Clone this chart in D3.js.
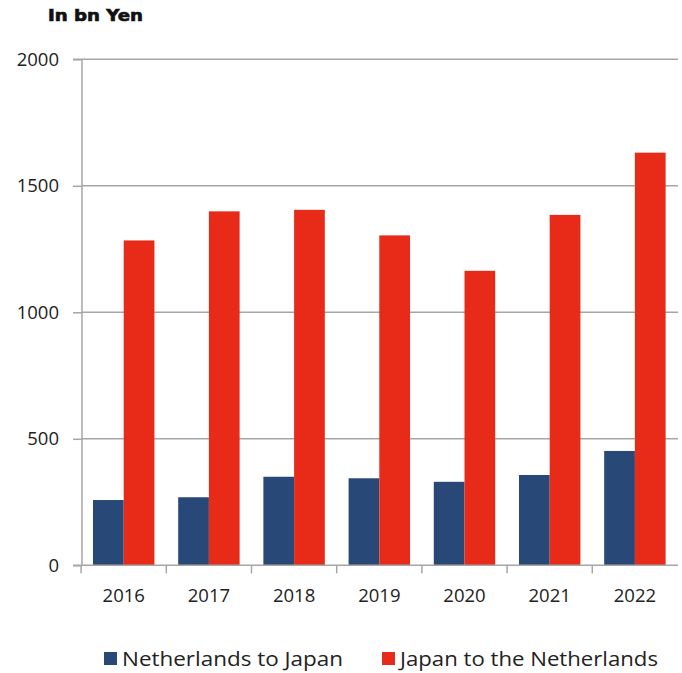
<!DOCTYPE html>
<html><head><meta charset="utf-8">
<script src="https://cdn.jsdelivr.net/npm/d3@7"></script>
<style>body{margin:0;background:#fff}</style>
</head><body>
<svg id="c" width="682" height="673"></svg>
<script>
const years = ["2016","2017","2018","2019","2020","2021","2022"];
const nlToJp = [258, 269, 350, 344, 330, 357, 452];
const jpToNl = [1284, 1399, 1405, 1304, 1164, 1385, 1631];
const seriesNames = ["Netherlands to Japan", "Japan to the Netherlands"];
const seriesColors = ["#284878", "#e82a18"];
const yTicks = [0, 500, 1000, 1500, 2000];
const unitLabel = "In bn Yen";

const svg = d3.select("#c");
const m = {l: 82, r: 678, t: 59.3, b: 565.3};
const x = d3.scaleBand().domain(years).range([m.l, m.l + 594.6]).paddingInner(0.279).paddingOuter(0.129);
const xs = d3.scaleBand().domain([0,1]).range([0, x.bandwidth()]);
const y = d3.scaleLinear().domain([0, 2000]).range([m.b, m.t]);
const grid = "#a6a6a6";
const font = "'Open Sans', 'Noto Sans', sans-serif";

// gridlines
svg.append("g").selectAll("line").data(yTicks.filter(d=>d>0)).join("line")
  .attr("x1", m.l).attr("x2", m.r).attr("y1", d=>y(d)).attr("y2", d=>y(d))
  .attr("stroke", grid).attr("stroke-width", 1.5);

// bars
const data = [nlToJp, jpToNl];
data.forEach((vals, si) => {
  svg.append("g").selectAll("rect").data(years).join("rect")
    .attr("x", d => x(d) + xs(si))
    .attr("width", xs.bandwidth())
    .attr("y", (d,i) => y(vals[i]))
    .attr("height", (d,i) => y(0) - y(vals[i]))
    .attr("fill", seriesColors[si]);
});

// y axis
const ya = svg.append("g").attr("transform", `translate(${m.l},0)`)
  .call(d3.axisLeft(y).tickValues(yTicks).tickSize(9).tickPadding(14).tickFormat(d3.format("d")));
ya.select(".domain").attr("stroke", grid).attr("stroke-width", 1.5).attr("d", `M-9,${m.b}H0V${m.t}H-9`);
ya.selectAll(".tick line").attr("stroke", grid).attr("stroke-width", 1.5);
ya.selectAll(".tick text").attr("font-family", font).attr("font-size", 18.5).attr("fill", "#222");

// x axis
const xa = svg.append("g").attr("transform", `translate(0,${m.b})`)
  .call(d3.axisBottom(x).tickSize(0).tickPadding(0));
xa.select(".domain").attr("stroke", grid).attr("stroke-width", 1.5).attr("d", `M${m.l},0H${m.r}`);
xa.selectAll(".tick text").attr("font-family", font).attr("font-size", 18.5).attr("fill", "#222")
  .attr("dy", null).attr("y", 37);
const bounds = years.map(d => x(d) - x.step()*x.paddingInner()/2);
svg.append("g").selectAll("line").data(bounds).join("line")
  .attr("x1", d=>d).attr("x2", d=>d).attr("y1", m.b).attr("y2", m.b+8)
  .attr("stroke", grid).attr("stroke-width", 1.5);

// unit label
svg.append("text").attr("x", 48).attr("y", 21).text(unitLabel)
  .attr("font-family", "'DejaVu Sans', sans-serif").attr("font-weight", 900)
  .attr("font-size", 16.5).attr("fill", "#111")
  .attr("stroke", "#111").attr("stroke-width", 0.7)
  .attr("textLength", 95).attr("lengthAdjust", "spacingAndGlyphs");

// legend
const legX = [104, 382];
const legW = [221, 258];
seriesNames.forEach((n, i) => {
  svg.append("rect").attr("x", legX[i]).attr("y", 652).attr("width", 13).attr("height", 13).attr("fill", seriesColors[i]);
  svg.append("text").attr("x", legX[i] + 18).attr("y", 666).text(n)
    .attr("font-family", font).attr("font-size", 20.5).attr("fill", "#222")
    .attr("textLength", legW[i]).attr("lengthAdjust", "spacingAndGlyphs");
});
</script>
</body></html>
